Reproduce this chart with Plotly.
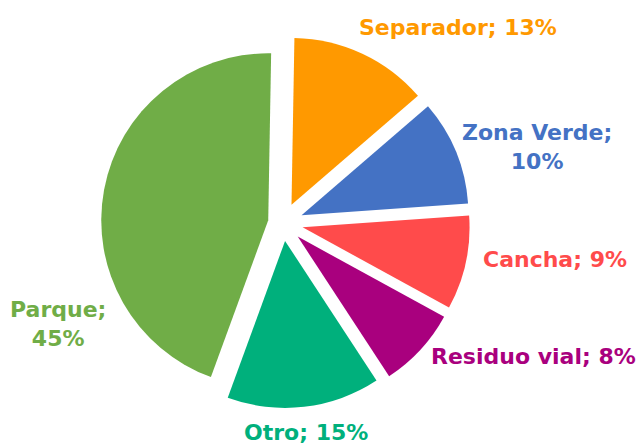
import plotly.graph_objects as go

labels = ["Separador", "Zona Verde", "Cancha", "Residuo vial", "Otro", "Parque"]
values = [13.4, 10.2, 9.1, 7.8, 14.8, 44.7]
colors = ["#FF9900", "#4472C4", "#FF4B4B", "#A9007E", "#00B07C", "#70AD47"]
pulls = [0.12, 0.12, 0.12, 0.12, 0.108, 0.09]

W, H = 639, 444
CX, CY, HALF = 283, 223, 187
# label centers in pixels and line-break choice (style, not data)
label_pos = [(458, 27), (537, 147), (555, 259), (533, 356), (306, 432), (58, 324)]
label_break = [False, True, False, False, False, True]

fig = go.Figure(go.Pie(
    labels=labels, values=values, sort=False, direction="clockwise", rotation=1,
    marker=dict(colors=colors, line=dict(width=0)),
    pull=pulls, textinfo="none", hoverinfo="label+percent",
    domain=dict(x=[(CX - HALF) / W, (CX + HALF) / W], y=[1 - (CY + HALF) / H, 1 - (CY - HALF) / H]),
    showlegend=False,
))

total = sum(values)
for lab, val, col, (px, py), brk in zip(labels, values, colors, label_pos, label_break):
    sep = ";<br>" if brk else "; "
    pct = round(100 * val / total)
    fig.add_annotation(
        x=px / W, y=1 - py / H, xref="paper", yref="paper",
        text=f"{lab}{sep}{pct}%", showarrow=False, xanchor="center", yanchor="middle",
        font=dict(family="DejaVu Sans", size=22, color=col, weight="bold"), align="center",
    )

fig.update_layout(
    width=W, height=H, margin=dict(l=0, r=0, t=0, b=0),
    paper_bgcolor="white", plot_bgcolor="white",
)
fig.write_html("out.html", config={"displayModeBar": False},
               post_script="document.body.style.margin='0';document.body.style.overflow='hidden';")
